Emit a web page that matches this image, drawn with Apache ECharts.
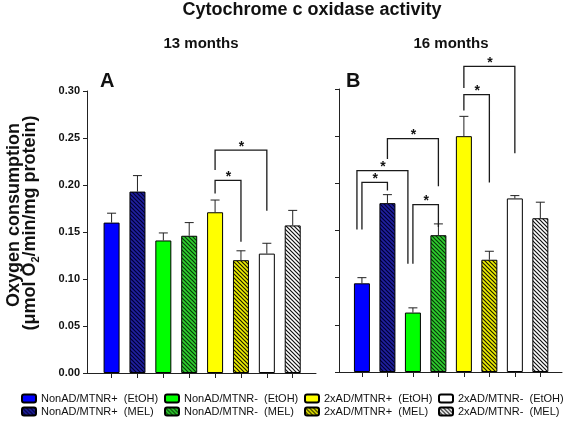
<!DOCTYPE html>
<html><head><meta charset="utf-8">
<script src="https://cdn.jsdelivr.net/npm/echarts@6/dist/echarts.min.js"></script>
<style>html,body{margin:0;padding:0;background:#fff}#c{width:567px;height:422px}</style>
</head><body><div id="c"></div>
<script>
// ---- data ----
const groups = ['NonAD/MTNR+  (EtOH)','NonAD/MTNR+  (MEL)','NonAD/MTNR-  (EtOH)','NonAD/MTNR-  (MEL)',
                '2xAD/MTNR+  (EtOH)','2xAD/MTNR+  (MEL)','2xAD/MTNR-  (EtOH)','2xAD/MTNR-  (MEL)'];
const positions = [1,2,3,4,5,6,7,8];
const meanA = [0.160, 0.193, 0.141, 0.146, 0.171, 0.120, 0.127, 0.157];
const semA  = [0.010, 0.017, 0.008, 0.014, 0.013, 0.010, 0.011, 0.016];
const meanB = [0.094, 0.179, 0.063, 0.145, 0.250, 0.119, 0.184, 0.163];
const semB  = [0.006, 0.009, 0.005, 0.012, 0.021, 0.009, 0.003, 0.017];
const yTicks = [0, 0.05, 0.10, 0.15, 0.20, 0.25, 0.30];
// brackets: [fromPos, toPos, topValue, leftEndValue, rightEndValue]
const bracketsA = [[5,7,0.237,0.216,0.1726],[5,6,0.205,0.191,0.1397]];
const bracketsB = [[1,2,0.201,0.151,0.1925],[1,3,0.2134,0.151,0.1148],[2,4,0.2473,0.2258,0.1968],
                   [3,4,0.1774,0.1148,0.1537],[5,6,0.294,0.2773,0.201],[5,7,0.324,0.301,0.232]];
const bracketShiftB = [0,-5,0,0,0,0];

// ---- styles ----
const FONT = "'Liberation Sans', Arial, sans-serif";
function hatch(bg, fg){
  const s=4, c=document.createElement('canvas'); c.width=c.height=s;
  const g=c.getContext('2d'); g.fillStyle=bg; g.fillRect(0,0,s,s);
  g.strokeStyle=fg; g.lineWidth=1.2; g.beginPath();
  g.moveTo(-1,-1); g.lineTo(s+1,s+1);
  g.moveTo(-1,s-1); g.lineTo(1,s+1);
  g.moveTo(s-1,-1); g.lineTo(s+1,1);
  g.stroke(); return {image:c, repeat:'repeat'};
}
const fills = ['#0000ff', hatch('#2020a0','#000033'), '#00ff00', hatch('#30d030','#083808'),
               '#ffff00', hatch('#f0f000','#1a1a00'), '#ffffff', hatch('#ffffff','#111111')];

const chart = echarts.init(document.getElementById('c'));

function xAxisCfg(idx,min,max){
  return {type:'value', gridIndex:idx, min:min, max:max,
    axisLine:{show:true, onZero:false, lineStyle:{color:'#222', width:1}},
    axisTick:{show:true, customValues:positions, length:5, lineStyle:{color:'#222'}},
    axisLabel:{show:false}, splitLine:{show:false}};
}
function yAxisCfg(idx,showLabels){
  return {type:'value', gridIndex:idx, min:0, max:0.3, interval:0.05,
    axisLine:{show:true, lineStyle:{color:'#222', width:1}},
    axisTick:{show:true, length:4, lineStyle:{color:'#222'}},
    splitLine:{show:false},
    axisLabel:{show:showLabels, formatter:v=>v.toFixed(2), fontFamily:FONT, fontWeight:'bold', fontSize:11, color:'#111', margin:7}};
}

const series = [];
[[meanA,semA,0],[meanB,semB,1]].forEach(([mean,sem,p])=>{
  groups.forEach((name,i)=>{
    series.push({name:name, type:'bar', xAxisIndex:p, yAxisIndex:p, barWidth:16, barGap:'-100%',
      data:[[positions[i], mean[i]]], z:2,
      itemStyle:{color:fills[i], borderColor:'#000', borderWidth:1}});
  });
  series.push({type:'custom', xAxisIndex:p, yAxisIndex:p, z:5, clip:false, silent:true,
    data: positions.map((x,i)=>[x, mean[i], mean[i]+sem[i]]),
    renderItem:(params,api)=>{
      const b=api.coord([api.value(0),api.value(1)]), t=api.coord([api.value(0),api.value(2)]);
      return {type:'group', children:[
        {type:'line', shape:{x1:b[0],y1:b[1],x2:t[0],y2:t[1]}, style:{stroke:'#222',lineWidth:1}},
        {type:'line', shape:{x1:t[0]-4.5,y1:t[1],x2:t[0]+4.5,y2:t[1]}, style:{stroke:'#222',lineWidth:1}}
      ]};
    }});
});
[[bracketsA,[0,0],0],[bracketsB,bracketShiftB,1]].forEach(([br,shift,p])=>{
  series.push({type:'custom', xAxisIndex:p, yAxisIndex:p, z:6, clip:false, silent:true,
    data: br.map((r,i)=>r.concat([i])),
    renderItem:(params,api)=>{
      const sh = shift[api.value(5)];
      const a=api.coord([api.value(0),api.value(2)]), b=api.coord([api.value(1),api.value(2)]);
      const la=api.coord([api.value(0),api.value(3)]), rb=api.coord([api.value(1),api.value(4)]);
      const x1=a[0]+sh, x2=b[0]+sh;
      return {type:'group', children:[
        {type:'polyline', shape:{points:[[x1,la[1]],[x1,a[1]],[x2,a[1]],[x2,rb[1]]]}, style:{stroke:'#1a1a1a',lineWidth:1.3,fill:null}},
        {type:'text', x:(x1+x2)/2+0.5, y:a[1]-3.5, style:{text:'*', fill:'#111', font:'bold 14px '+FONT, align:'center', verticalAlign:'middle', textAlign:'center', textVerticalAlign:'middle'}}
      ]};
    }});
});

const legendX = [21,164,304,438];
const legends = groups.map((name,i)=>({
  data:[name], left:legendX[Math.floor(i/2)], top: (i%2===0)?393:406, padding:0,
  itemWidth:14, itemHeight:8, itemGap:5, selectedMode:false,
  textStyle:{fontFamily:FONT, fontSize:11, color:'#111'}
}));

function txt(text,x,y,font,align,extra){
  return Object.assign({type:'text', x:x, y:y, style:{text:text, font:font, fill:'#111',
    align:align, verticalAlign:'middle', textAlign:align, textVerticalAlign:'middle'}}, extra||{});
}

chart.setOption({
  animation:false,
  grid:[{left:87, top:91, width:229, height:282},{left:339, top:89, width:223, height:283}],
  xAxis:[xAxisCfg(0,0.05,8.9), xAxisCfg(1,0.1,8.85)],
  yAxis:[yAxisCfg(0,true), yAxisCfg(1,false)],
  legend:legends,
  series:series,
  graphic:[
    txt('Cytochrome c oxidase activity',312,10.5,'bold 18px '+FONT,'center'),
    txt('13 months',201,44,'bold 15px '+FONT,'center'),
    txt('16 months',451,44,'bold 15px '+FONT,'center'),
    txt('A',100,81.5,'bold 20px '+FONT,'left'),
    txt('B',346,81.5,'bold 20px '+FONT,'left'),
    txt('Oxygen consumption',14,215,'bold 18px '+FONT,'center',{rotation:Math.PI/2}),
    {type:'text', x:30, y:223, rotation:Math.PI/2, style:{
      text:'{b|(μmol O}{s|2}{b|/min/mg protein)}', fill:'#111',
      align:'center', verticalAlign:'middle', textAlign:'center', textVerticalAlign:'middle',
      rich:{b:{fontFamily:FONT, fontWeight:'bold', fontSize:18, lineHeight:22, verticalAlign:'middle'},
            s:{fontFamily:FONT, fontWeight:'bold', fontSize:11, lineHeight:22, verticalAlign:'bottom'}}}}
  ]
});
</script></body></html>
